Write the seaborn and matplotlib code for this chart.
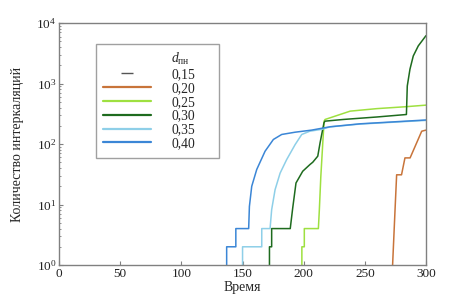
import numpy as np
import pandas as pd
import matplotlib
matplotlib.use("Agg")
import matplotlib.pyplot as plt
from matplotlib.lines import Line2D
from matplotlib.ticker import LogLocator
import seaborn as sns

# ---- data ----
d_labels = ["0,15", "0,20", "0,25", "0,30", "0,35", "0,40"]

t_020 = [272.7, 274.7, 276, 280, 282.8, 287, 292.4, 296.5, 300]
y_020 = [1, 8.2, 31, 31, 59, 59, 105, 163, 170]

t_025 = [198.5, 198.5, 200.5, 200.5, 212, 212.8, 214, 215.6, 216.7, 217.5, 238, 259.7, 284, 300]
y_025 = [1, 2, 2, 4, 4, 8.2, 29, 104, 240, 255, 350, 385, 415, 440]

t_030 = [172, 172, 173.8, 173.8, 189, 191, 193.7, 199.2, 205.2, 207.4, 211.5, 213.4, 216.6,
         217.4, 232.4, 259.7, 284, 284.7, 286.9, 289.6, 293.7, 300]
y_030 = [1, 2, 2, 4, 4, 8.7, 22.7, 35.5, 46, 50, 63, 105, 225,
         239, 255, 280, 308, 910, 1730, 2860, 4200, 6200]

t_035 = [150, 150, 165.7, 165.7, 172.5, 173.8, 176.6, 180.7, 186, 193, 198.4, 205, 214.7, 221.5, 246, 300]
y_035 = [1, 2, 2, 4, 4, 8.2, 17.6, 33, 55, 98, 144, 163, 175, 192, 214, 246]

t_040 = [137, 137, 144.5, 144.5, 155, 155.6, 157.5, 161.6, 168.4, 175.2, 182, 193, 206.5, 221.5, 246, 300]
y_040 = [1, 2, 2, 4, 4, 9.3, 20, 38, 76, 119, 144, 157, 170, 193, 216, 250]

series = {"0,20": (t_020, y_020), "0,25": (t_025, y_025), "0,30": (t_030, y_030),
          "0,35": (t_035, y_035), "0,40": (t_040, y_040)}

colors = {"0,15": "#555555", "0,20": "#c8743a", "0,25": "#9ee040", "0,30": "#1e6b1e",
          "0,35": "#8ecfe8", "0,40": "#3b86d6"}

rows = []
for k, (tt, yy) in series.items():
    for i, (a, b) in enumerate(zip(tt, yy)):
        rows.append({"d": k, "t": a, "n": b, "i": i})
df = pd.DataFrame(rows)

# ---- style ----
sns.set_style("ticks")
plt.rcParams["font.family"] = ["Liberation Serif", "DejaVu Serif"]
plt.rcParams["mathtext.fontset"] = "custom"
plt.rcParams["mathtext.rm"] = "Liberation Serif"
plt.rcParams["mathtext.it"] = "Liberation Serif:italic"
plt.rcParams["font.size"] = 9

fig = plt.figure(figsize=(4.73, 3.0), dpi=100)
ax = fig.add_axes([0.125, 0.1167, 0.7756, 0.8063])

for k in series:
    sub = df[df["d"] == k]
    sns.lineplot(data=sub, x="t", y="n", sort=False, estimator=None, color=colors[k],
                 linewidth=1.1, ax=ax, legend=False)

ax.set_yscale("log")
ax.set_xlim(0, 300)
ax.set_ylim(1, 1e4)
ax.set_xticks([0, 50, 100, 150, 200, 250, 300])
ax.yaxis.set_minor_locator(LogLocator(base=10, subs=np.arange(2, 10)))
ax.set_xlabel("Время", fontsize=10, labelpad=1)
ax.set_ylabel("Количество интеркаляций", fontsize=10, labelpad=9)

for s in ax.spines.values():
    s.set_color("#808080")
    s.set_linewidth(1.0)
ax.tick_params(which="both", direction="in", colors="#808080", labelcolor="#222222", labelsize=9.5)
ax.tick_params(which="major", length=3, pad=2)
ax.tick_params(which="minor", length=1.5)

# ---- legend ----
handles = [Line2D([], [], linestyle="none")]
labels = [r"$d_{\mathrm{пн}}$"]
handles.append(Line2D([], [], linestyle="none", marker="_", markersize=9,
                      markeredgewidth=1.0, color=colors["0,15"]))
labels.append("0,15")
for k in d_labels[1:]:
    handles.append(Line2D([], [], color=colors[k], linewidth=1.6))
    labels.append(k)
leg = ax.legend(handles, labels, loc="upper left", bbox_to_anchor=(0.10, 0.426, 0.336, 0.489),
                mode="expand",
                fancybox=False, framealpha=1, edgecolor="#a0a0a0", fontsize=9.8,
                handlelength=3.5, handletextpad=1.5, labelspacing=0.06,
                borderpad=0.55, borderaxespad=0)
leg.get_frame().set_linewidth(1.0)

fig.savefig("out.png", dpi=100)
